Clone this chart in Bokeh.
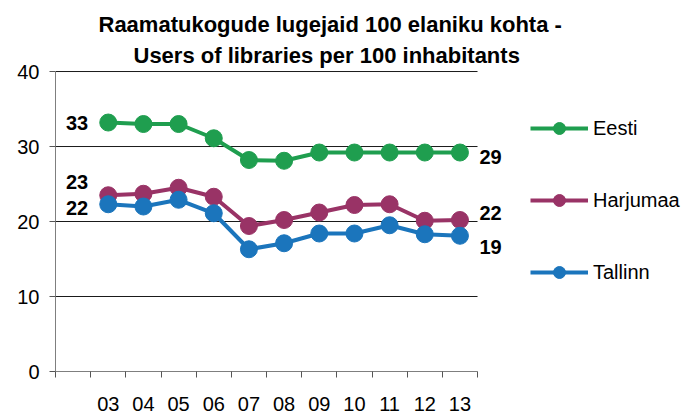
from bokeh.plotting import figure
from bokeh.models import Range1d, FixedTicker, Legend, LegendItem, Title
from bokeh.embed import file_html
from bokeh.resources import INLINE
from bokeh.core.properties import value

# ---- data ----
years = ["03", "04", "05", "06", "07", "08", "09", "10", "11", "12", "13"]
eesti = [33.2, 33.0, 33.0, 31.1, 28.2, 28.1, 29.2, 29.2, 29.2, 29.2, 29.2]
harjumaa = [23.5, 23.7, 24.5, 23.3, 19.4, 20.2, 21.2, 22.2, 22.3, 20.1, 20.2]
tallinn = [22.3, 22.0, 22.9, 21.1, 16.3, 17.1, 18.4, 18.4, 19.5, 18.3, 18.1]
series_names = ["Eesti", "Harjumaa", "Tallinn"]
start_labels = ["33", "23", "22"]
end_labels = ["29", "22", "19"]
y_ticks = [0, 10, 20, 30, 40]
title_lines = ["Raamatukogude lugejaid 100 elaniku kohta -",
               "Users of libraries per 100 inhabitants"]

# ---- style ----
colors = ["#1f9e4f", "#993366", "#1b75bc"]
FONT = "Liberation Sans"
start_dy = [0, -13, 4]
end_dy = [4, -7, 11]
title_offsets = [43, 78]

series = [eesti, harjumaa, tallinn]
n_slots = len(years) + 1          # one leading empty category slot
xs = [i + 1.5 for i in range(len(years))]

p = figure(width=684, height=413, output_backend="svg", toolbar_location=None,
           title=None,
           x_range=Range1d(0, 17.885), y_range=Range1d(0, 40.27),
           min_border_left=55, min_border_right=0, min_border_top=69, min_border_bottom=42)
p.outline_line_color = None
p.xgrid.visible = False
p.ygrid.visible = False

# horizontal gridlines limited to the category area
gy = y_ticks[1:]
p.segment(x0=[0] * len(gy), x1=[n_slots] * len(gy), y0=gy, y1=gy,
          line_color="#1a1a1a", line_width=1)

items = []
for name, vals, col in zip(series_names, series, colors):
    rl = p.line(xs, vals, line_color=col, line_width=4)
    rs = p.scatter(xs, vals, size=17, fill_color=col, line_color=col)
    items.append(LegendItem(label=name, renderers=[rl, rs]))

# data labels
p.text(x=[0.5] * 3, y=[s[0] for s in series], text=start_labels,
       x_offset=4, y_offset=start_dy, text_align="center", text_baseline="middle",
       text_font=value(FONT), text_font_style="bold", text_font_size="20px", text_color="black")
p.text(x=[n_slots] * 3, y=[s[-1] for s in series], text=end_labels,
       x_offset=13, y_offset=end_dy, text_align="center", text_baseline="middle",
       text_font=value(FONT), text_font_style="bold", text_font_size="20px", text_color="black")

# x axis: labels at slot centres, ticks at slot boundaries
xa = p.xaxis[0]
xa.ticker = FixedTicker(ticks=xs, minor_ticks=list(range(n_slots + 1)))
xa.major_label_overrides = {x: y for x, y in zip(xs, years)}
xa.bounds = (0, n_slots)
xa.major_tick_in = 0
xa.major_tick_out = 0
xa.minor_tick_in = 0
xa.minor_tick_out = 6
xa.major_label_standoff = 19
xa.major_label_text_font = FONT
xa.major_label_text_font_size = "20px"
xa.major_label_text_color = "black"
xa.axis_line_color = "#7f7f7f"
xa.minor_tick_line_color = "#555555"

ya = p.yaxis[0]
ya.ticker = FixedTicker(ticks=y_ticks)
ya.bounds = (0, 40)
ya.major_tick_in = 0
ya.major_tick_out = 6
ya.minor_tick_in = 0
ya.minor_tick_out = 0
ya.major_label_standoff = 10
ya.major_label_text_font = FONT
ya.major_label_text_font_size = "20px"
ya.major_label_text_color = "black"
ya.axis_line_color = "#7f7f7f"
ya.major_tick_line_color = "#555555"

# two-line title (second line added first: closest to the plot)
for txt, off in reversed(list(zip(title_lines, title_offsets))):
    p.add_layout(Title(text=txt, align="left", offset=off, standoff=4,
                       text_font=FONT, text_font_style="bold", text_font_size="22px",
                       text_color="black"), "above")

legend = Legend(items=items, location=(475, 84), glyph_width=58, glyph_height=30,
                label_standoff=5, spacing=42, padding=0, margin=0,
                border_line_color=None, background_fill_alpha=0,
                label_text_font=FONT, label_text_font_size="20px", label_text_color="black")
p.add_layout(legend)

open("out.html", "w").write(file_html(p, INLINE))
